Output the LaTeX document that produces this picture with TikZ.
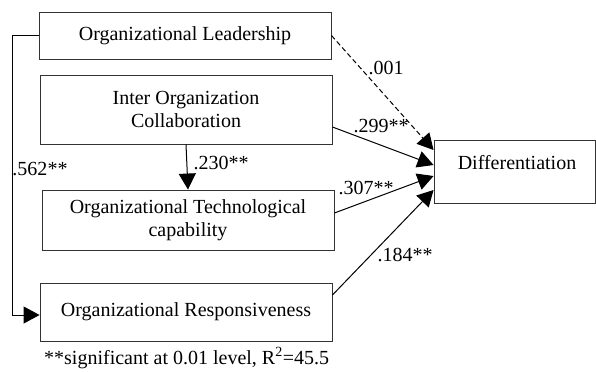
\documentclass[tikz,border=0pt]{standalone}
\usepackage{fontspec}
\setmainfont{Liberation Serif}
\usetikzlibrary{arrows.meta}
\begin{document}
\begin{tikzpicture}[x=1pt,y=-1pt,
  box/.style={draw=black!80,line width=0.9pt,minimum width=292pt,align=center,font=\fontsize{20}{23}\selectfont,inner sep=0pt},
  lbl/.style={font=\fontsize{20}{23}\selectfont,inner sep=0pt},
  conn/.style={draw=black,line width=1pt,-{Triangle[length=16pt,width=17pt,fill=black]}}]
\useasboundingbox (0,0) rectangle (596,372);
\node[box,minimum height=47pt] (lead) at (185,35.5) {Organizational Leadership};
\node[box,minimum height=69pt] (inter) at (186,109.5) {Inter Organization\\Collaboration};
\node[box,minimum height=60pt] (tech) at (188,220) {Organizational Technological\\capability};
\node[box,minimum height=58pt] (resp) at (186,312) {Organizational Responsiveness};
\node[box,minimum width=161pt,minimum height=63pt,text depth=0pt] (diff) at (514.5,171.5) {};
\node[lbl] (difft) at (517,163) {Differentiation};
\coordinate (c1) at (12,35.5);
\draw[conn,dash pattern=on 5pt off 3pt] (lead.east) -- ([yshift=21.5pt]diff.west);
\draw[conn] ([yshift=-17.5pt]inter.east) -- ([yshift=6.5pt]diff.west);
\draw[conn] ([yshift=7pt]tech.east) -- ([yshift=-4.5pt]diff.west);
\draw[conn] ([yshift=17pt]resp.east) -- ([yshift=-18.5pt]diff.west);
\draw[conn] (inter.south) -- (tech.north);
\draw[conn] (lead.west) -- (c1) |- ([yshift=-3pt]resp.west);
\node[lbl] (l001) at (386,68) {.001};
\node[lbl] (l299) at (381,126) {.299**};
\node[lbl] (l307) at (366,188) {.307**};
\node[lbl] (l184) at (405,255) {.184**};
\node[lbl] (l562) at (40,169) {.562**};
\node[lbl] (l230) at (221,163) {.230**};
\node[lbl,anchor=west] (foot) at (44,358) {**significant at 0.01 level, R\textsuperscript{2}=45.5};
\end{tikzpicture}
\end{document}
